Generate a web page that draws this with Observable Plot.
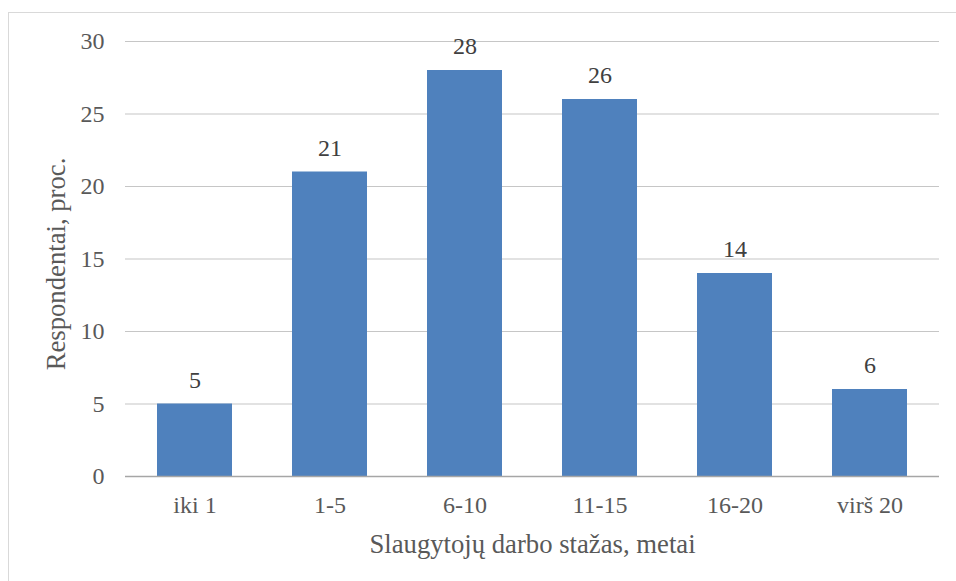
<!DOCTYPE html>
<html>
<head>
<meta charset="utf-8">
<script src="https://cdn.jsdelivr.net/npm/d3@7"></script>
<script src="https://cdn.jsdelivr.net/npm/@observablehq/plot@0.6"></script>
<style>
  html, body { margin: 0; padding: 0; background: #fff; overflow: hidden; font-family: "Liberation Serif", serif; }
  #wrap { position: relative; width: 956px; height: 581px; }
  #frame { position: absolute; left: 8px; top: 12px; width: 980px; height: 600px; border: 1.5px solid #d9d9d9; box-sizing: border-box; }
  #chart { position: absolute; left: 0; top: 0; }
</style>
</head>
<body>
<div id="wrap"><div id="frame"></div><div id="chart"></div></div>
<script>
const categories = ["iki 1", "1-5", "6-10", "11-15", "16-20", "virš 20"];
const values = [5, 21, 28, 26, 14, 6];
const yTicks = [0, 5, 10, 15, 20, 25, 30];
const xLabel = "Slaugytojų darbo stažas, metai";
const yLabel = "Respondentai, proc.";

const data = categories.map((c, i) => ({category: c, value: values[i]}));
const font = "Liberation Serif";
const marginTop = 41;

const chart = Plot.plot({
  width: 956,
  height: 581,
  marginLeft: 125,
  marginRight: 17,
  marginTop: marginTop,
  marginBottom: 105,
  style: {background: "transparent", overflow: "visible"},
  x: {domain: categories, paddingInner: 0.445, paddingOuter: 0.2225},
  y: {domain: [0, 30]},
  marks: [
    Plot.gridY(yTicks.filter(d => d > 0), {stroke: "#c6c6c6", strokeOpacity: 1, strokeWidth: 1.2}),
    Plot.barY(data, {x: "category", y: "value", fill: "#4f81bd"}),
    Plot.ruleY([0], {stroke: "#a6a6a6", strokeWidth: 1.5}),
    Plot.text(data, {x: "category", y: "value", text: d => String(d.value), dy: -24, fontSize: 24, fill: "#404040", fontFamily: font, ariaLabel: "data-labels"}),
    Plot.axisY({ticks: yTicks, tickSize: 0, tickPadding: 21, fontSize: 24, color: "#595959", fontFamily: font,
      label: yLabel, labelAnchor: "center", labelOffset: 79, labelArrow: "none"}),
    Plot.axisX({tickSize: 0, tickPadding: 19, fontSize: 24, color: "#595959", fontFamily: font,
      label: xLabel, labelAnchor: "center", labelOffset: 76, labelArrow: "none"})
  ]
});
document.getElementById("chart").appendChild(chart);
d3.select(chart).selectAll("g[aria-label='y-axis label'] text, g[aria-label='x-axis label'] text")
  .attr("font-size", 26.7).attr("fill", "#595959");
d3.select(chart).selectAll("g[aria-label='y-axis label'] text").attr("dx", -5);

// keep data labels inside the plot area (as the original chart does)
const svgTop = chart.getBoundingClientRect().top;
d3.select(chart).selectAll("g[aria-label='data-labels'] text").each(function() {
  const top = this.getBoundingClientRect().top - svgTop;
  if (top < marginTop) {
    const shift = marginTop - top;
    if (this.hasAttribute("y")) {
      this.setAttribute("y", +this.getAttribute("y") + shift);
    } else {
      const t = this.getAttribute("transform") || "";
      this.setAttribute("transform", `translate(0,${shift}) ${t}`);
    }
  }
});
</script>
</body>
</html>
